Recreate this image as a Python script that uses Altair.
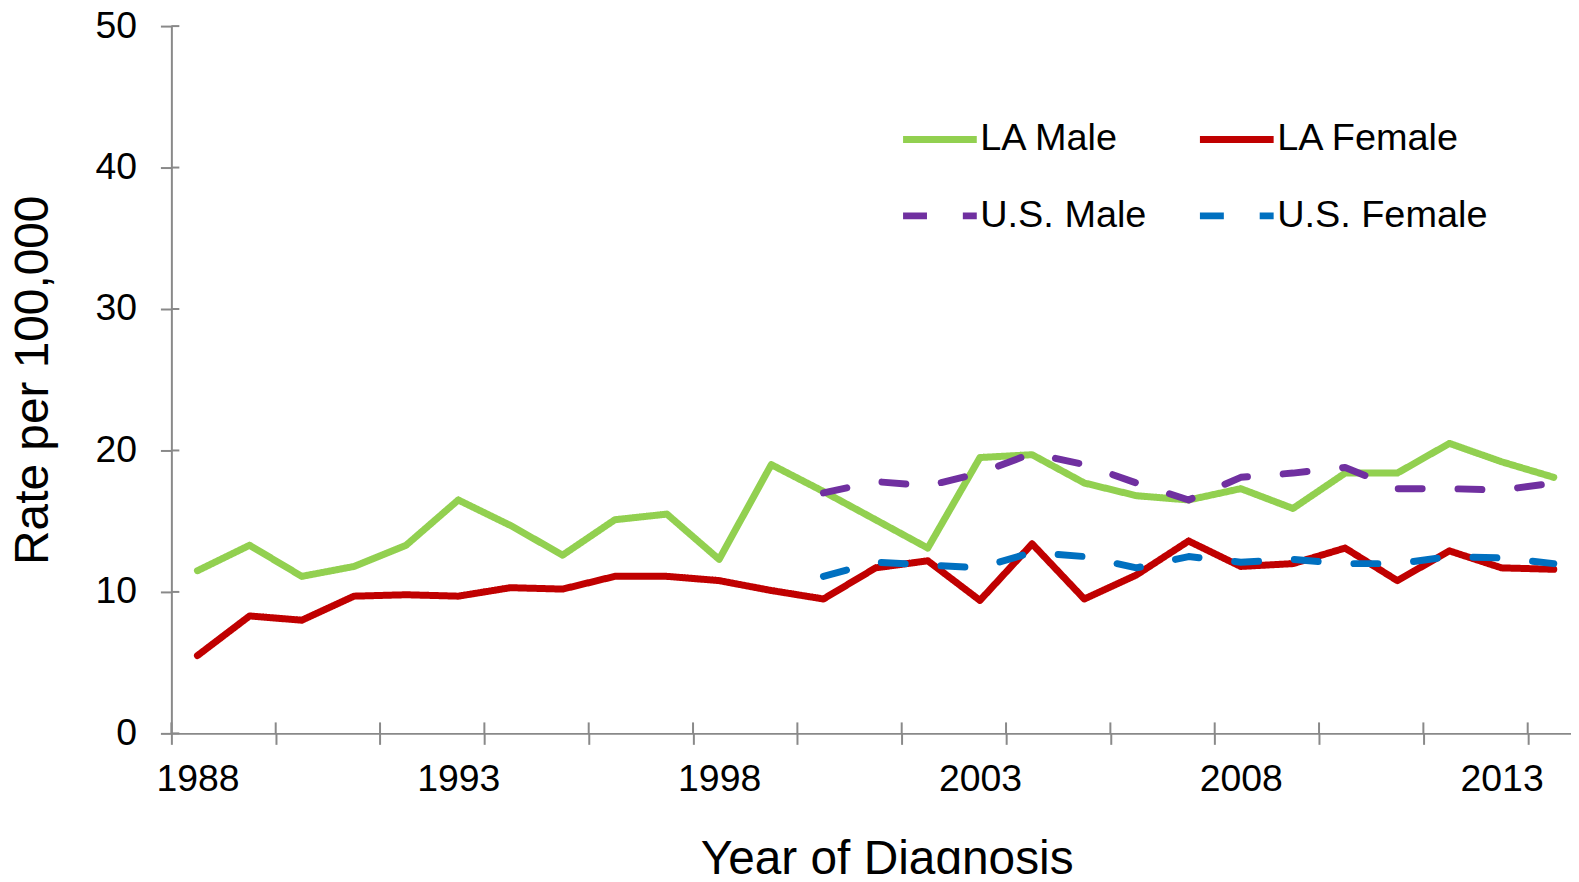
import altair as alt
import pandas as pd

years = list(range(1988, 2015))
us_years = list(range(2000, 2015))
la_male = [11.5, 13.3, 11.1, 11.8, 13.3, 16.5, 14.7, 12.6, 15.1, 15.5,
           12.3, 19.0, 17.1, 15.1, 13.1, 19.5, 19.7, 17.7, 16.8,
           16.5, 17.3, 15.9, 18.4, 18.4, 20.5, 19.2, 18.1]
la_female = [5.5, 8.3, 8.0, 9.7, 9.8, 9.7, 10.3, 10.2, 11.1, 11.1,
             10.8, 10.1, 9.5, 11.7, 12.2, 9.4, 13.4, 9.5, 11.2,
             13.6, 11.8, 12.0, 13.1, 10.8, 12.9, 11.7, 11.6]
us_male = [17.0, 17.8, 17.5, 18.4, 19.8, 19.0, 17.7, 16.5, 18.1, 18.4,
           18.8, 17.3, 17.3, 17.2, 17.7]
us_female = [11.1, 12.1, 11.9, 11.7, 12.8, 12.5, 11.7, 12.5, 12.1, 12.3,
             12.0, 12.0, 12.5, 12.4, 12.0]

# legend is laid out column by column, so this order gives rows
# "LA Male / LA Female" and "U.S. Male / U.S. Female"
legend_order = ["LA Male", "U.S. Male", "LA Female", "U.S. Female"]
legend_colors = ["#92D050", "#7030A0", "#C00000", "#0070C0"]
legend_dash = [[1, 0], [24, 36], [1, 0], [24, 36]]
draw_order = ["LA Male", "LA Female", "U.S. Male", "U.S. Female"]

x_label_years = [1988, 1993, 1998, 2003, 2008, 2013]
x_tick_bounds = [1987.5 + 2 * i for i in range(14)]
y_ticks = [0, 10, 20, 30, 40, 50]

rows = []
for s, xs, vals in [("LA Male", years, la_male), ("LA Female", years, la_female),
                    ("U.S. Male", us_years, us_male), ("U.S. Female", us_years, us_female)]:
    for x, v in zip(xs, vals):
        rows.append({"year": x, "rate": v, "series": s})
df = pd.DataFrame(rows)

FONT = "Liberation Sans"
AXIS_COLOR = "#898989"
W, H = 1405, 710
LABEL_FS = 37.5
TITLE_FS = 48

xscale = alt.Scale(domain=[1987.5, 2014.33], nice=False, zero=False)
yscale = alt.Scale(domain=[0, 50], nice=False)

x_axis = alt.Axis(
    values=x_tick_bounds + x_label_years,
    format="d",
    labelExpr="datum.value % 1 === 0 ? datum.label : ''",
    tickOpacity={"condition": {"test": "datum.value % 1 === 0", "value": 0}, "value": 1},
    tickSize=11, tickWidth=2, tickColor=AXIS_COLOR,
    domainColor=AXIS_COLOR, domainWidth=2,
    labelFontSize=LABEL_FS, labelFont=FONT, labelColor="black", labelPadding=16,
    labelOverlap=False, labelFlush=False, labelBound=False,
    grid=False,
    title="Year of Diagnosis", titleFontSize=TITLE_FS, titleFont=FONT,
    titleFontWeight="normal", titleColor="black", titlePadding=38,
    titleX=718,
)
y_axis = alt.Axis(
    values=y_ticks,
    tickSize=11, tickWidth=2, tickColor=AXIS_COLOR,
    domainColor=AXIS_COLOR, domainWidth=2,
    labelFontSize=LABEL_FS, labelFont=FONT, labelColor="black", labelPadding=24,
    grid=False,
    title="Rate per 100,000", titleFontSize=TITLE_FS, titleFont=FONT,
    titleFontWeight="normal", titleColor="black", titlePadding=38,
)

color = alt.Color("series:N", scale=alt.Scale(domain=legend_order, range=legend_colors),
                  title=None,
                  legend=alt.Legend(orient="none", legendX=731, legendY=73,
                                    columns=2, columnPadding=39, rowPadding=17,
                                    symbolType="stroke", symbolSize=5476,
                                    symbolStrokeWidth=7, labelFontSize=38,
                                    labelFont=FONT, labelColor="black",
                                    labelLimit=500, labelOffset=0, padding=0))
dash = alt.StrokeDash("series:N", scale=alt.Scale(domain=legend_order, range=legend_dash),
                      title=None, legend=None)

layers = []
for s in draw_order:
    layers.append(
        alt.Chart(df).transform_filter(alt.datum.series == s)
        .mark_line(strokeWidth=7, strokeCap="round", strokeJoin="round")
        .encode(x=alt.X("year:Q", scale=xscale, axis=x_axis),
                y=alt.Y("rate:Q", scale=yscale, axis=y_axis),
                color=color, strokeDash=dash)
    )

xt = alt.Chart(pd.DataFrame({"b": x_tick_bounds})).mark_rule(
    color=AXIS_COLOR, strokeWidth=2).encode(
    x=alt.X("b:Q", scale=xscale, axis=x_axis), y=alt.value(H - 11), y2=alt.value(H))
yt = alt.Chart(pd.DataFrame({"t": y_ticks})).mark_rule(
    color=AXIS_COLOR, strokeWidth=2).encode(
    y=alt.Y("t:Q", scale=yscale, axis=y_axis), x=alt.value(0), x2=alt.value(8))

chart = alt.layer(*layers, xt, yt).properties(
    width=W, height=H,
    background="white",
    autosize=alt.AutoSizeParams(type="none"),
    padding={"left": 164, "top": 16.5, "right": 0, "bottom": 139},
).configure_view(stroke=None)

chart.save("out.html", embed_options={"renderer": "svg", "actions": False})
